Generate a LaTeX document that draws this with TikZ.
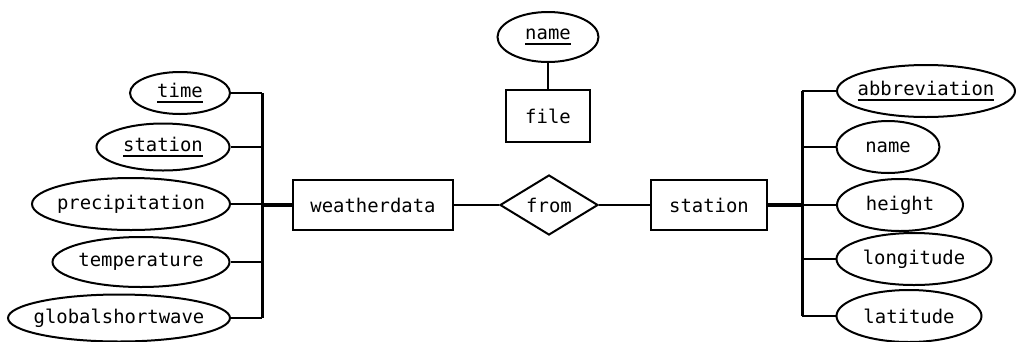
\documentclass[tikz,border=0pt]{standalone}
\usepackage{fontspec}
\setmonofont{DejaVu Sans Mono}
\usetikzlibrary{shapes.geometric}
% key attributes are underlined with a heavy rule
\newcommand\keytext[1]{\setbox0\hbox{#1}\rlap{\rule[-6pt]{\wd0}{2.4pt}}\box0}
\begin{document}
\begin{tikzpicture}[x=1pt,y=-1pt,
  every node/.style={font=\fontsize{18.9}{22}\selectfont\ttfamily, inner sep=0pt},
  attr/.style={draw, ellipse, line width=2pt, inner xsep=-40pt, inner ysep=-4pt},
  entity/.style={draw, rectangle, line width=2pt},
  rel/.style={draw, diamond, line width=2pt},
  link/.style={line width=2pt},
  bus/.style={line width=3pt},
  trunk/.style={line width=3.4pt}]
\useasboundingbox (0,0) rectangle (1017,341);

% entities and relationship
\node[entity, minimum width=160, minimum height=50] (wd) at (373,205) {weatherdata};
\node[rel, minimum width=98, minimum height=60, aspect=1.63] (from) at (549,205) {from};
\node[entity, minimum width=116, minimum height=50] (st) at (709,205) {station};
\node[entity, minimum width=84, minimum height=52] (file) at (548,116) {file};
\node[attr, minimum width=101, minimum height=50] (fname) at (548,37) {\keytext{name}};

% weatherdata attributes
\node[attr, minimum width=100, minimum height=42] (time) at (180,93) {\keytext{time}};
\node[attr, minimum width=133, minimum height=47] (wst) at (163,147) {\keytext{station}};
\node[attr, minimum width=198, minimum height=52] (prec) at (131,204) {precipitation};
\node[attr, minimum width=177, minimum height=50] (temp) at (141,262) {temperature};
\node[attr, minimum width=222, minimum height=47] (gsw) at (119,318) {globalshortwave};

% station attributes
\node[attr, minimum width=178, minimum height=52] (abbr) at (926,91) {\keytext{abbreviation}};
\node[attr, minimum width=103, minimum height=52] (sname) at (888,147) {name};
\node[attr, minimum width=126, minimum height=52] (height) at (900,205) {height};
\node[attr, minimum width=155, minimum height=52] (lon) at (914,259) {longitude};
\node[attr, minimum width=145, minimum height=52] (lat) at (909,316) {latitude};

\coordinate (busL) at (262,0);
\coordinate (busR) at (802,0);

% left attribute bus
\draw[bus] (time.east -| busL) -- (gsw.east -| busL);
\foreach \a in {time,wst,prec,temp,gsw}
  \draw[link] (\a.east) -- (\a.east -| busL);
\draw[trunk] (wd.west -| busL) -- (wd.west);

% right attribute bus
\draw[bus] (abbr.west -| busR) -- (lat.west -| busR);
\foreach \a in {abbr,sname,height,lon,lat}
  \draw[link] (\a.west) -- (\a.west -| busR);
\draw[trunk] (st.east) -- (st.east -| busR);

% relationship links
\draw[link] (wd.east) -- (from.west);
\draw[link] (from.east) -- (st.west);
\draw[link] (fname.south) -- (file.north);
\end{tikzpicture}
\end{document}
